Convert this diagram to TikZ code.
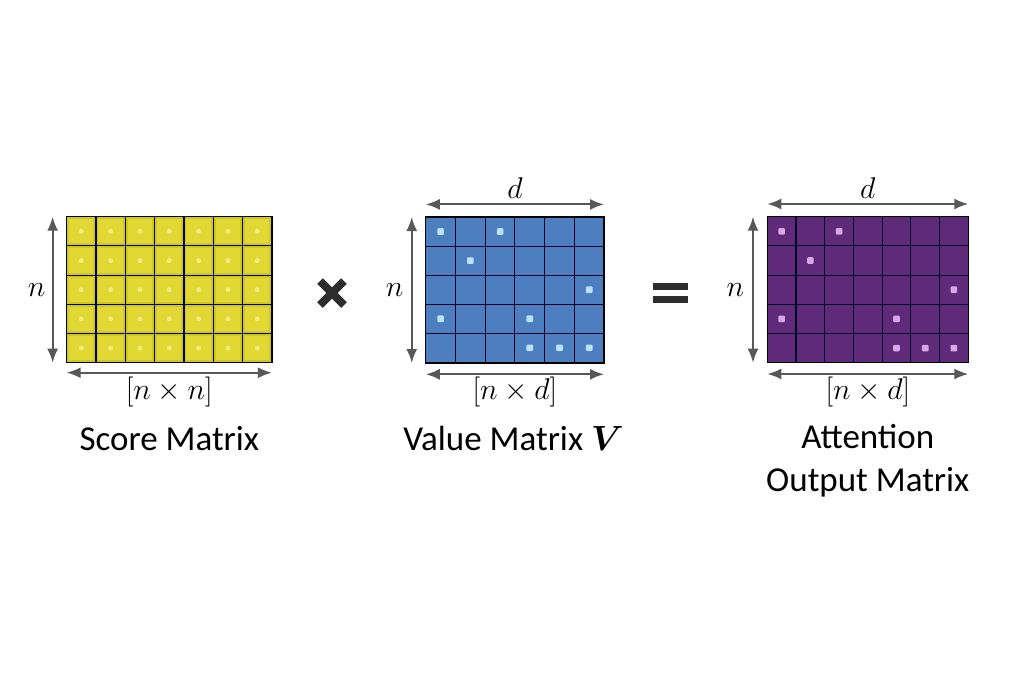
\documentclass[tikz,border=0pt]{standalone}
\usepackage{fix-cm}
\usepackage{amsmath,bm}
\usepackage{fontspec}
\setmainfont{Carlito}
\usetikzlibrary{arrows.meta,positioning,calc}
\definecolor{ScoreY}{RGB}{226,216,52}
\definecolor{ScoreYDark}{RGB}{208,198,38}
\definecolor{ScoreDot}{RGB}{242,236,128}
\definecolor{ValB}{RGB}{76,126,192}
\definecolor{ValDot}{RGB}{188,226,250}
\definecolor{OutP}{RGB}{96,42,122}
\definecolor{OutDot}{RGB}{214,168,232}
\definecolor{DimGray}{RGB}{88,88,88}
\definecolor{OpGray}{RGB}{45,45,45}
\tikzset{
  mat/.style={draw=black,line width=1.3pt,minimum height=146pt,inner sep=0pt,outer sep=0pt},
  gridln/.style={line width=1.1pt,draw=black!85!blue},
  dimarr/.style={{Latex[length=14pt,width=11pt]}-{Latex[length=14pt,width=11pt]},line width=2pt,DimGray},
  dimlab/.style={font=\fontsize{30}{34}\selectfont,inner sep=0pt},
  title/.style={font=\fontsize{35}{43}\selectfont,align=center,anchor=base},
  opbox/.style={inner sep=0pt,outer sep=0pt},
  opline/.style={line width=8pt,OpGray},
}

\begin{document}
\begin{tikzpicture}[x=1pt,y=-1pt]
  \fill[white] (0,0) rectangle (1024,683);
  \useasboundingbox (0,0) rectangle (1024,683);

  % --- score matrix [n x n] ---
  \node[mat, fill=ScoreYDark, minimum width=205.3pt] (score) at (169.3,289.7) {};
  \foreach \c in {0,...,6}
    \foreach \r in {0,...,4} {
      \fill[ScoreY] ($(score.north west)+({\c*29.33+2.5},{\r*29.2+2.5})$) rectangle ++(24.33,24.2);
      \fill[ScoreDot] ($(score.north west)+({(\c+0.5)*29.33},{(\r+0.5)*29.2})$) circle (2.5pt);
    }
  \foreach \i in {1,...,6}
    \draw[gridln] ($(score.north west)!\i/7!(score.north east)$) -- ($(score.south west)!\i/7!(score.south east)$);
  \foreach \j in {1,...,4}
    \draw[gridln] ($(score.north west)!\j/5!(score.south west)$) -- ($(score.north east)!\j/5!(score.south east)$);
  \draw[line width=1.3pt] (score.north west) rectangle (score.south east);

  \draw[dimarr] ([xshift=-14pt]score.north west) -- ([xshift=-14pt]score.south west);
  \draw[dimarr] ([yshift=-10pt]score.south west) -- ([yshift=-10pt]score.south east);
  \node[dimlab] (scoreN) at ([xshift=-30pt]score.west) {$n$};
  \node[dimlab] (scoreDim) at ([yshift=-29pt]score.south) {$[n\times n]$};
  \node[title] (scoreTitle) at (169.3,450) {Score Matrix};

  % times sign
  \node[opbox, minimum size=24pt] (times) at (332,293) {};
  \draw[opline] (times.north west) -- (times.south east);
  \draw[opline] (times.south west) -- (times.north east);

  % --- value matrix V [n x d] ---
  \node[mat, fill=ValB, minimum width=178.3pt] (value) at (514.9,290) {};
  \foreach \c/\r in {0/0,2/0,1/1,5/2,0/3,3/3,3/4,4/4,5/4}
    \fill[ValDot, rounded corners=1pt] ($(value.north west)+({(\c+0.5)*29.72-3.3},{(\r+0.5)*29.08-3.3})$) rectangle ++(6.6,6.6);
  \foreach \i in {1,...,5}
    \draw[gridln] ($(value.north west)!\i/6!(value.north east)$) -- ($(value.south west)!\i/6!(value.south east)$);
  \foreach \j in {1,...,4}
    \draw[gridln] ($(value.north west)!\j/5!(value.south west)$) -- ($(value.north east)!\j/5!(value.south east)$);
  \draw[line width=1.3pt] (value.north west) rectangle (value.south east);

  \draw[dimarr] ([xshift=-14pt]value.north west) -- ([xshift=-14pt]value.south west);
  \draw[dimarr] ([yshift=12.6pt]value.north west) -- ([yshift=12.6pt]value.north east);
  \draw[dimarr] ([yshift=-11.3pt]value.south west) -- ([yshift=-11.3pt]value.south east);
  \node[dimlab] (valueN) at ([xshift=-31pt]value.west) {$n$};
  \node[dimlab] (valueD) at ([yshift=29pt]value.north) {$d$};
  \node[dimlab] (valueDim) at ([yshift=-29pt]value.south) {$[n\times d]$};
  \node[title] (valueTitle) at (513.5,450) {Value Matrix $\bm{V}$};

  % equals sign
  \node[opbox, minimum width=35pt, minimum height=13.4pt] (equals) at (670.5,293) {};
  \draw[opline, line width=7.3pt] (equals.north west) -- (equals.north east);
  \draw[opline, line width=7.3pt] (equals.south west) -- (equals.south east);

  % --- attention output [n x d] ---
  \node[mat, fill=OutP, minimum width=201pt] (out) at (867.8,289.7) {};
  \foreach \c/\r in {0/0,2/0,1/1,6/2,0/3,4/3,4/4,5/4,6/4}
    \fill[OutDot, rounded corners=1pt] ($(out.north west)+({(\c+0.5)*28.71-3.3},{(\r+0.5)*29.2-3.3})$) rectangle ++(6.6,6.6);
  \foreach \i in {1,...,6}
    \draw[gridln] ($(out.north west)!\i/7!(out.north east)$) -- ($(out.south west)!\i/7!(out.south east)$);
  \foreach \j in {1,...,4}
    \draw[gridln] ($(out.north west)!\j/5!(out.south west)$) -- ($(out.north east)!\j/5!(out.south east)$);
  \draw[line width=1.3pt] (out.north west) rectangle (out.south east);

  \draw[dimarr] ([xshift=-14.3pt]out.north west) -- ([xshift=-14.3pt]out.south west);
  \draw[dimarr] ([yshift=12.7pt]out.north west) -- ([yshift=12.7pt]out.north east);
  \draw[dimarr] ([yshift=-11.3pt]out.south west) -- ([yshift=-11.3pt]out.south east);
  \node[dimlab] (outN) at ([xshift=-32pt]out.west) {$n$};
  \node[dimlab] (outD) at ([yshift=29pt]out.north) {$d$};
  \node[dimlab] (outDim) at ([yshift=-29pt]out.south) {$[n\times d]$};
  \node[title] (outTitle) at (867.8,491) {Attention\\Output Matrix};
\end{tikzpicture}
\end{document}
